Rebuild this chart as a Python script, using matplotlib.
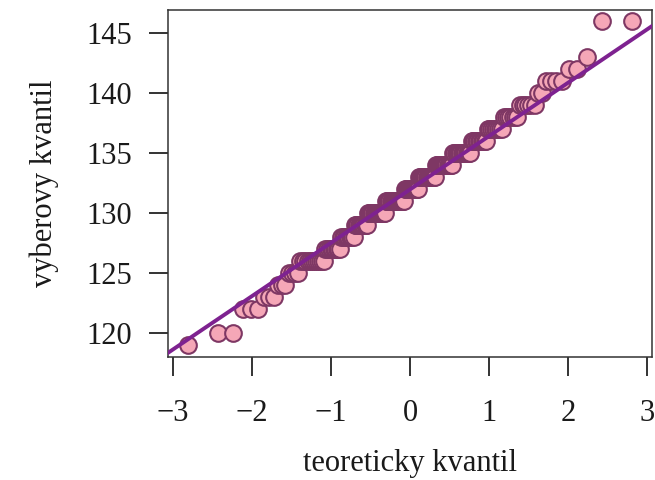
import matplotlib
matplotlib.use("Agg")
import matplotlib.pyplot as plt
import numpy as np
from statistics import NormalDist

# Sample values (integers) and how many times each occurs (n = 200)
values = [119, 120, 121, 122, 123, 124, 125, 126, 127, 128, 129, 130, 131, 132,
          133, 134, 135, 136, 137, 138, 139, 140, 141, 142, 143, 144, 145, 146]
counts = [1, 2, 0, 3, 3, 3, 4, 12, 10, 10, 11, 17, 18, 15,
          16, 16, 15, 11, 9, 7, 6, 2, 4, 2, 1, 0, 0, 2]

x_ticks = [-3, -2, -1, 0, 1, 2, 3]
y_ticks = [120, 125, 130, 135, 140, 145]
x_label = "teoreticky kvantil"
y_label = "vyberovy kvantil"

sample = np.sort(np.repeat(values, counts)).astype(float)
n = len(sample)
nd = NormalDist()
probs = (np.arange(1, n + 1) - 0.5) / n
theo = np.array([nd.inv_cdf(p) for p in probs])

# reference line through quartiles (like R's qqline)
q1, q3 = np.quantile(sample, [0.25, 0.75])
z1, z3 = nd.inv_cdf(0.25), nd.inv_cdf(0.75)
slope = (q3 - q1) / (z3 - z1)
intercept = q1 - slope * z1

plt.rcParams['font.family'] = ['Liberation Serif', 'DejaVu Serif']

fig = plt.figure(figsize=(6.55, 4.8), dpi=100)
ax = fig.add_axes([0.257, 0.256, 0.738, 0.723])

ax.plot(theo, sample, 'o', ms=12, mfc='#f5a7b7', mec='#7e3764', mew=1.5, zorder=2)
xl = np.array([-3.1, 3.1])
ax.plot(xl, intercept + slope * xl, color='#7e2290', lw=2.8, zorder=3)

ax.set_xlim(-3.056, 3.056)
ax.set_ylim(118.03, 146.94)
ax.set_xticks(x_ticks)
ax.set_yticks(y_ticks)
ax.tick_params(axis='both', direction='out', length=14, width=1.4,
               labelsize=22, color='#333333', labelcolor='#1a1a1a')
ax.tick_params(axis='x', pad=16)
ax.tick_params(axis='y', pad=12)
for s in ax.spines.values():
    s.set_linewidth(1.1)
    s.set_color('#333333')

ax.set_xlabel(x_label, fontsize=22, color='#1a1a1a', labelpad=15)
ax.set_ylabel(y_label, fontsize=22, color='#1a1a1a', labelpad=20)

fig.savefig("out.png", dpi=100)
